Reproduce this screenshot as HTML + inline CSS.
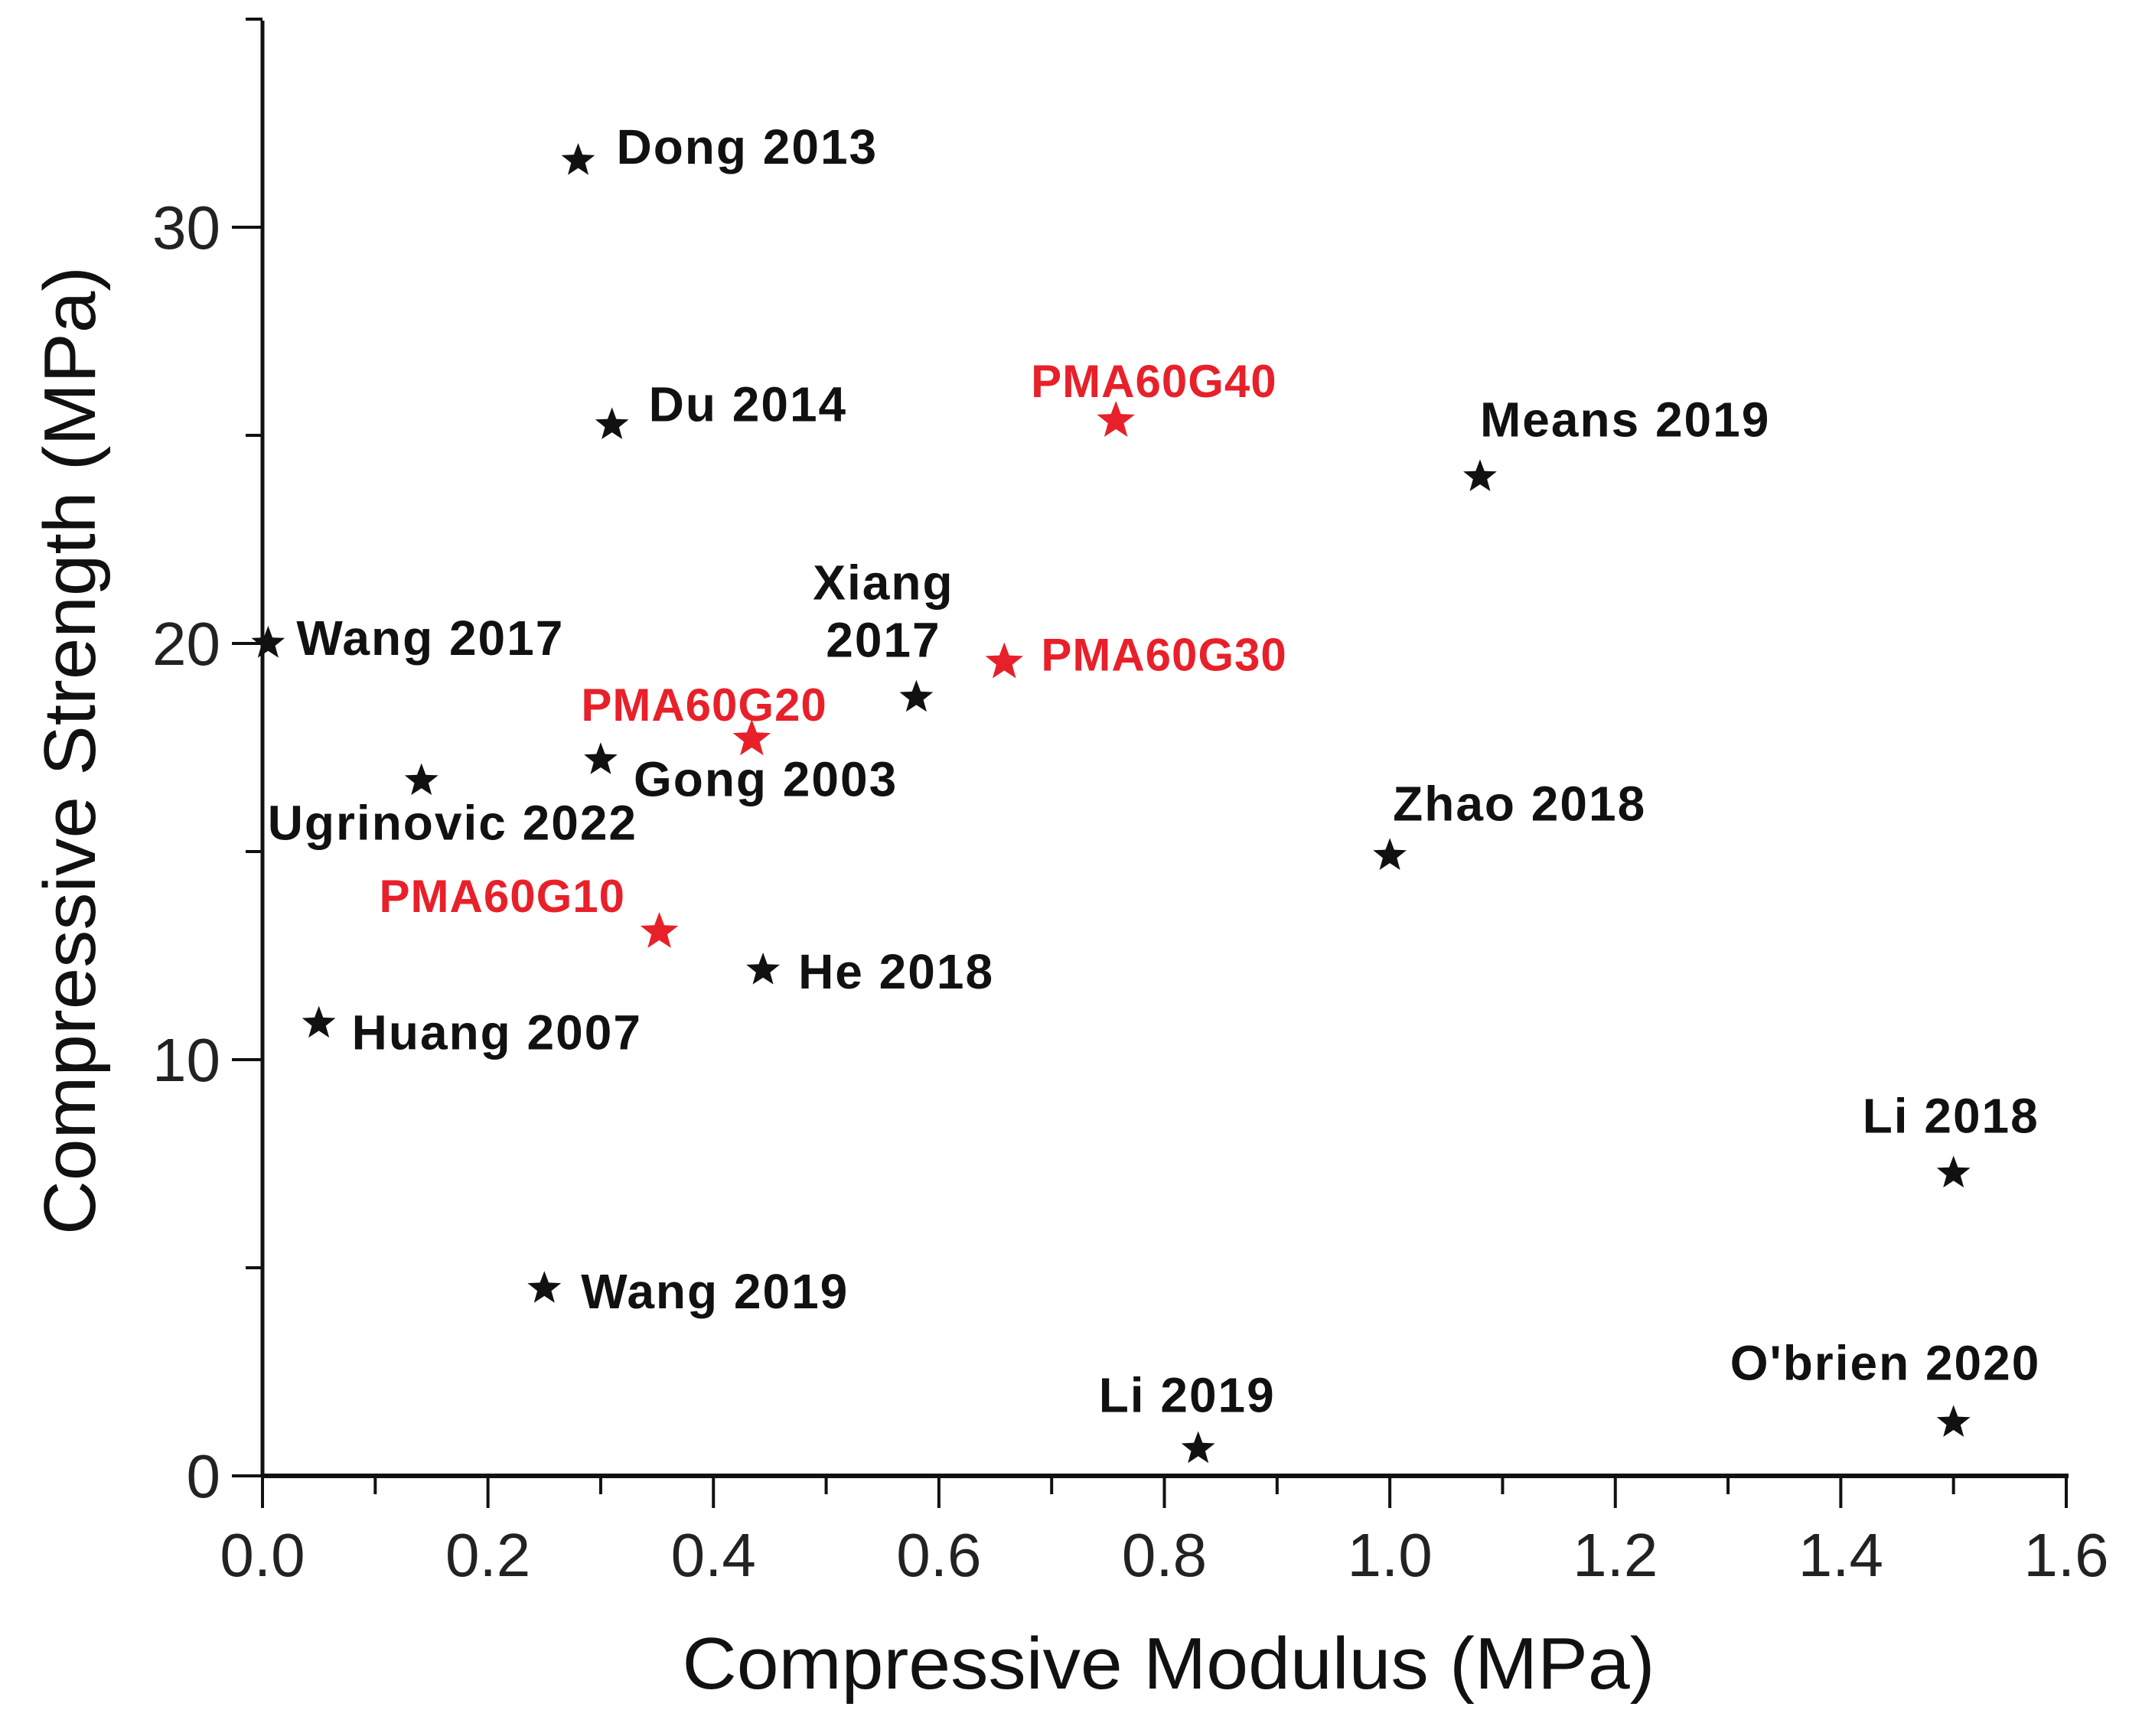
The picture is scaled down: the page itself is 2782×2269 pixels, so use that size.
<!DOCTYPE html>
<html><head><meta charset="utf-8"><style>
html,body{margin:0;padding:0;background:#fff;}
svg{display:block;font-family:"Liberation Sans",Arial,sans-serif;}
</style></head><body>
<svg id="chart" width="2782" height="2269" viewBox="0 0 2782 2269" xmlns="http://www.w3.org/2000/svg">
<g id="axes"></g>
<g id="points"></g>
<text x="1527" y="2207" font-size="96" text-anchor="middle" textLength="1271" lengthAdjust="spacingAndGlyphs" fill="#111">Compressive Modulus (MPa)</text>
<text x="0" y="0" font-size="96" text-anchor="middle" textLength="1266" lengthAdjust="spacingAndGlyphs" fill="#111" transform="translate(124,981) rotate(-90)">Compressive Strength (MPa)</text>
</svg>
<script>
const names = ["Dong 2013","Du 2014","Wang 2017","Ugrinovic 2022","Gong 2003","PMA60G20","Xiang 2017","PMA60G30","PMA60G40","Means 2019","Zhao 2018","PMA60G10","He 2018","Huang 2007","Wang 2019","Li 2019","Li 2018","O'brien 2020"];
const modulus = [0.28,0.31,0.005,0.141,0.30,0.434,0.58,0.658,0.757,1.08,1.0,0.352,0.444,0.05,0.25,0.83,1.50,1.50];
const strength = [31.6,25.25,20.0,16.7,17.2,17.7,18.7,19.55,25.35,24.0,14.9,13.07,12.15,10.87,4.5,0.65,7.27,1.28];
const isOwn = [0,0,0,0,0,1,0,1,1,0,0,1,0,0,0,0,0,0];
const xTicks = [0,0.2,0.4,0.6,0.8,1.0,1.2,1.4,1.6];
const xTickLabels = ["0.0","0.2","0.4","0.6","0.8","1.0","1.2","1.4","1.6"];
const yTicks = [0,10,20,30];
const yTickLabels = ["0","10","20","30"];

// label layout offsets (px), not data
const labelDx = [50,48,37,-201,43,-223,-43,48,-111,0,4,-366,46,43,48,-130,-119,-292];
const labelDy = [-18,-27,-7,55,25,-46,-150,-11,-53,-75,-68,-48,2,12,4,-70,-75,-78];

const X0=343, X1=2700, Y0=1929, PXPER10=544;
const sx = v => X0 + (v/1.6)*(X1-X0);
const sy = v => Y0 - v*PXPER10/10;
const NS="http://www.w3.org/2000/svg";
const axes=document.getElementById('axes'), pts=document.getElementById('points');
function mk(tag, attrs, parent){const e=document.createElementNS(NS,tag);for(const k in attrs)e.setAttribute(k,attrs[k]);parent.appendChild(e);return e;}

let yl=mk('line',{x1:sx(0),y1:27,x2:sx(0),y2:Y0+2,stroke:'#111','stroke-width':5},axes);


let xl=mk('line',{x1:sx(0)-2,y1:Y0,x2:X1+3,y2:Y0,stroke:'#111','stroke-width':6},axes);



for(let i=0;i<=16;i++){
  const v=i*0.1, major=i%2===0;
  const t=mk('line',{x1:sx(v),y1:Y0,x2:sx(v),y2:Y0+(major?42:24),stroke:'#111','stroke-width':4},axes);
  
  
}
xTicks.forEach((v,i)=>{
  const t=mk('text',{x:sx(v),y:2060,'font-size':80,'text-anchor':'middle',fill:'#222'},axes);
  t.textContent=xTickLabels[i];
  
  
});
for(let i=0;i<=7;i++){
  const v=i*5, major=i%2===0;
  const t=mk('line',{x1:sx(0),y1:sy(v),x2:sx(0)-(major?40:22),y2:sy(v),stroke:'#111','stroke-width':4},axes);
  
  
}
yTicks.forEach((v,i)=>{
  const t=mk('text',{x:288,y:sy(v)+28,'font-size':80,'text-anchor':'end',fill:'#222'},axes);
  t.textContent=yTickLabels[i];
  
  
});

function starPath(cx,cy,R){
  const r=R*0.42;let d='';
  for(let k=0;k<10;k++){const a=-Math.PI/2+k*Math.PI/5, rr=k%2?r:R;
    d+=(k?'L':'M')+(cx+rr*Math.cos(a)).toFixed(1)+','+(cy+rr*Math.sin(a)).toFixed(1);}
  return d+'Z';
}
names.forEach((n,i)=>{
  const cx=sx(modulus[i]), cy=sy(strength[i]), own=isOwn[i];
  const col=own?'#e8202a':'#111';
  const s=mk('path',{d:starPath(cx,cy,own?26:23),fill:col},pts);
  
  
  const lx=cx+labelDx[i], ly=cy+labelDy[i];
  const t=mk('text',{x:lx,y:ly+22,'font-size':own?60:64,'font-weight':'bold',fill:col,'letter-spacing':own?1:2},pts);
  if(n==='Xiang 2017'){
    t.setAttribute('text-anchor','middle');
    const a=mk('tspan',{x:lx,y:ly+22},t);a.textContent='Xiang';
    const b=mk('tspan',{x:lx,y:ly+97},t);b.textContent='2017';
  } else {
    t.textContent=n;
  }
  
  
});
</script>
</body></html>
